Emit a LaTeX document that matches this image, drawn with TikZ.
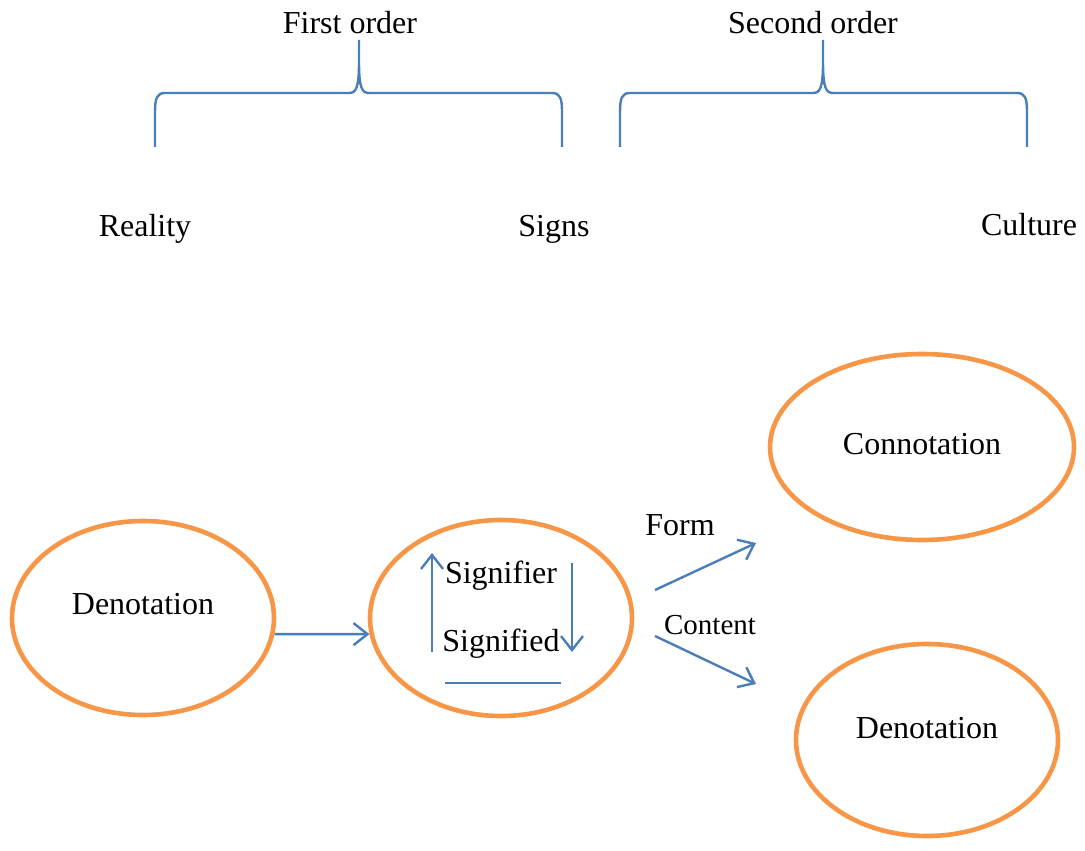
\documentclass[tikz,border=0pt]{standalone}
\usepackage{fontspec}
\setmainfont{Liberation Serif}
\usetikzlibrary{arrows.meta,positioning,shapes.geometric}
\definecolor{lineblue}{HTML}{4A7EBB}
\definecolor{ovalorange}{HTML}{F79646}

\begin{document}
\begin{tikzpicture}[x=0.5pt,y=-0.5pt,
            lab/.style={font=\fontsize{16}{19}\selectfont,inner sep=0pt},
            smalllab/.style={font=\fontsize{14.5}{17}\selectfont,inner sep=0pt},
            oval/.style={draw=ovalorange,line width=2.3pt,ellipse,inner sep=0pt},
            brace/.style={draw=lineblue,line width=1.2pt},
            arr/.style={draw=lineblue,line width=1.2pt,-{Straight Barb[length=7pt,width=11pt]}}
          ]
          \useasboundingbox (0,0) rectangle (1085,850);

          %orders
          \node[lab] (first) at (350,23) {First order};
          \node[lab] (second) at (813,23) {Second order};
          \foreach \l/\m/\r in {155/359/562,620/823/1027}
            \draw[brace] (\m,40) -- (\m,62) .. controls (\m,88) and ({\m-3},93) .. ({\m-10},93)
              -- ({\l+10},93) .. controls ({\l+2},93) and (\l,98) .. (\l,112) -- (\l,147)
              (\m,62) .. controls (\m,88) and ({\m+3},93) .. ({\m+10},93)
              -- ({\r-10},93) .. controls ({\r-2},93) and (\r,98) .. (\r,112) -- (\r,147);

          %levels
          \node[lab] (reality) at (145,229) {Reality};
          \node[lab] (signs) at (554,229) {Signs};
          \node[lab] (culture) at (1029,225) {Culture};

          %ovals
          \node[oval,minimum width=131pt,minimum height=97pt] (den1) at (143,618) {};
          \node[oval,minimum width=131pt,minimum height=98pt] (sig) at (501,618) {};
          \node[oval,minimum width=152pt,minimum height=93pt] (con) at (922,447) {};
          \node[oval,minimum width=131pt,minimum height=96pt] (den2) at (927,740) {};
          \node[lab] at (143,604) {Denotation};
          \node[lab] at (922,444) {Connotation};
          \node[lab] at (927,728) {Denotation};

          %sign
          \node[lab] (signifier) at (501,576) {Signifier};
          \node[lab] (signified) at (501,644) {Signified};
          \coordinate (up-s) at (432,652);
          \coordinate (up-e) at (432,553);
          \coordinate (down-s) at (572,563);
          \coordinate (down-e) at (572,652);
          \coordinate (bar-l) at (445,683);
          \coordinate (bar-r) at (561,683);
          \path[arr] (up-s) -- (up-e);
          \path[arr] (down-s) -- (down-e);
          \path[brace] (bar-l) -- (bar-r);

          %links
          \coordinate (form-s) at (655,590);
          \coordinate (form-e) at (756,543);
          \coordinate (cont-s) at (655,636);
          \coordinate (cont-e) at (756,684);
          \node[lab] (form) at (680,525) {Form};
          \node[smalllab] (content) at (710,625) {Content};
          \path[arr] (den1.-7) -- (sig.187);
          \path[arr] (form-s) -- (form-e);
          \path[arr] (cont-s) -- (cont-e);

      \end{tikzpicture}
\end{document}
